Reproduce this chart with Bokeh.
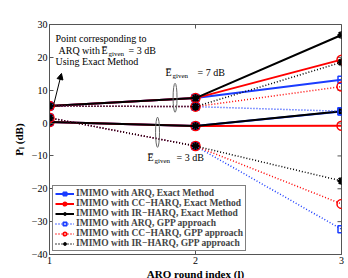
import math
from bokeh.plotting import figure
from bokeh.models import (Label, Arrow, NormalHead, Range1d, Legend, LegendItem, FixedTicker)
from bokeh.embed import file_html
from bokeh.resources import INLINE

rounds = [1, 2, 3]
# E_given = 7 dB group
arq_exact_7 = [5.2, 7.6, 13.2]
cc_exact_7 = [5.2, 7.6, 19.3]
ir_exact_7 = [5.2, 7.6, 26.8]
arq_gpp_7 = [5.2, 5.0, 3.6]
cc_gpp_7 = [5.2, 5.0, 11.1]
ir_gpp_7 = [5.2, 5.0, 18.5]
# E_given = 3 dB group
arq_exact_3 = [0.3, -0.9, 3.5]
cc_exact_3 = [0.3, -0.9, -0.8]
ir_exact_3 = [0.3, -0.9, 3.6]
arq_gpp_3 = [1.6, -7.0, -32.3]
cc_gpp_3 = [1.6, -7.0, -24.6]
ir_gpp_3 = [1.6, -7.0, -17.6]

labels = ["IMIMO with ARQ, Exact Method",
          "IMIMO with CC\u2212HARQ, Exact Method",
          "IMIMO with IR\u2212HARQ, Exact Method",
          "IMIMO with ARQ, GPP approach",
          "IMIMO with CC\u2212HARQ, GPP approach",
          "IMIMO with IR\u2212HARQ, GPP approach"]
y_ticks = [-40, -30, -20, -10, 0, 10, 20, 30]

SERIF = "Liberation Serif"
AXC = "#555555"

p = figure(frame_width=292, frame_height=230, output_backend="svg", toolbar_location=None,
           x_range=Range1d(1, 3), y_range=Range1d(-40, 30),
           min_border_left=49, min_border_right=7, min_border_top=24, min_border_bottom=24)
p.grid.visible = False
p.outline_line_color = AXC
p.outline_line_width = 1
p.background_fill_color = "white"
p.border_fill_color = "white"

for ax in [p.xaxis[0], p.yaxis[0]]:
    ax.major_tick_in = 4
    ax.major_tick_out = 0
    ax.minor_tick_line_color = None
    ax.axis_line_color = AXC
    ax.major_tick_line_color = AXC
    ax.major_label_text_font = SERIF
    ax.major_label_text_font_size = "10px"
    ax.major_label_text_color = "black"
    ax.major_label_standoff = 2
    ax.axis_label_text_font = SERIF
    ax.axis_label_text_font_style = "bold"
    ax.axis_label_text_font_size = "11px"
    ax.axis_label_text_color = "black"
    ax.axis_label_standoff = 1
p.xaxis.ticker = FixedTicker(ticks=rounds)
p.yaxis.ticker = FixedTicker(ticks=y_ticks)
p.yaxis.major_label_overrides = {t: (str(t).replace("-", "\u2212")) for t in y_ticks}
p.xaxis.axis_label = "ARQ round index (l)"
p.yaxis.axis_label = "P\u2097 (dB)"
p.yaxis.axis_label_standoff = 4

# mirrored inward ticks on top/right (half of each dash is clipped by the frame)
p.scatter([3] * len(y_ticks), y_ticks, marker="dash", size=8, line_color=AXC, line_width=1)
p.scatter(rounds, [30] * len(rounds), marker="dash", angle=math.pi / 2, size=8,
          line_color=AXC, line_width=1)

series = [
    (labels[0], arq_exact_7, arq_exact_3, "#1a3cff", "square", "solid"),
    (labels[1], cc_exact_7, cc_exact_3, "#ff0000", "circle", "solid"),
    (labels[2], ir_exact_7, ir_exact_3, "black", "asterisk", "solid"),
    (labels[3], arq_gpp_7, arq_gpp_3, "#1a3cff", "square", "1 2"),
    (labels[4], cc_gpp_7, cc_gpp_3, "#ff0000", "circle", "1 2"),
    (labels[5], ir_gpp_7, ir_gpp_3, "black", "asterisk", "1 2"),
]

items = []
for lab_, top, low, col, mk, dash in series:
    xs = rounds + [float("nan")] + rounds
    ys = top + [float("nan")] + low
    lw = 2 if dash == "solid" else 1.5
    ln = p.line(xs, ys, line_color=col, line_width=lw, line_dash=dash)
    size = {"square": 7, "circle": 9, "asterisk": 8}[mk]
    mlw = 2 if mk == "asterisk" else 1.5
    sc = p.scatter(xs, ys, marker=mk, size=size, line_color=col, fill_color=None, line_width=mlw)
    items.append(LegendItem(label=lab_, renderers=[ln, sc]))

legend = Legend(items=items, location=(3, 3), border_line_color="black", border_line_width=1.5,
                background_fill_color="white", background_fill_alpha=1,
                label_text_font=SERIF, label_text_font_style="bold", label_text_font_size="9.5px",
                glyph_height=9, glyph_width=19, label_height=9, spacing=0, padding=2,
                margin=0, label_standoff=2)
p.add_layout(legend)

# ellipses marking the groups
p.ellipse(x=[1.86, 1.74], y=[7.7, -2.8], width=0.027, height=[8.8, 9.2],
          fill_color=None, line_color="#666666", line_width=1)

def lab(text, x, y, size="10px", style="normal", align="left", baseline="middle", angle=0, color="black"):
    p.add_layout(Label(x=x, y=y, x_units="screen", y_units="screen", text=text,
                       text_font=SERIF, text_font_size=size, text_font_style=style,
                       text_align=align, text_baseline=baseline, angle=angle, text_color=color))

# helpers: reference pixel -> frame-relative screen units
def fx(px):
    return px - 49
def fy(py):
    return 254 - py

# annotation text top-left
lab("Point corresponding to", fx(55), fy(38))
lab("ARQ with", fx(58), fy(50))
lab("E\u0305", fx(101), fy(50))
lab("given", fx(108), fy(53), size="7px")
lab("= 3 dB", fx(128), fy(50))
lab("Using Exact Method", fx(55), fy(61))

p.add_layout(Arrow(end=NormalHead(size=6, fill_color="black", line_color="black"),
                   x_start=1.027, y_start=5.3, x_end=1.082, y_end=15.1,
                   line_color="black", line_width=1))

# E_given = 7 dB label
lab("E\u0305", fx(165), fy(72))
lab("given", fx(172), fy(75), size="7px")
lab("= 7 dB", fx(197), fy(72))
# E_given = 3 dB label
lab("E\u0305", fx(147), fy(157))
lab("given", fx(154), fy(160), size="7px")
lab("= 3 dB", fx(176), fy(157))

open("out.html", "w").write(file_html(p, INLINE))
